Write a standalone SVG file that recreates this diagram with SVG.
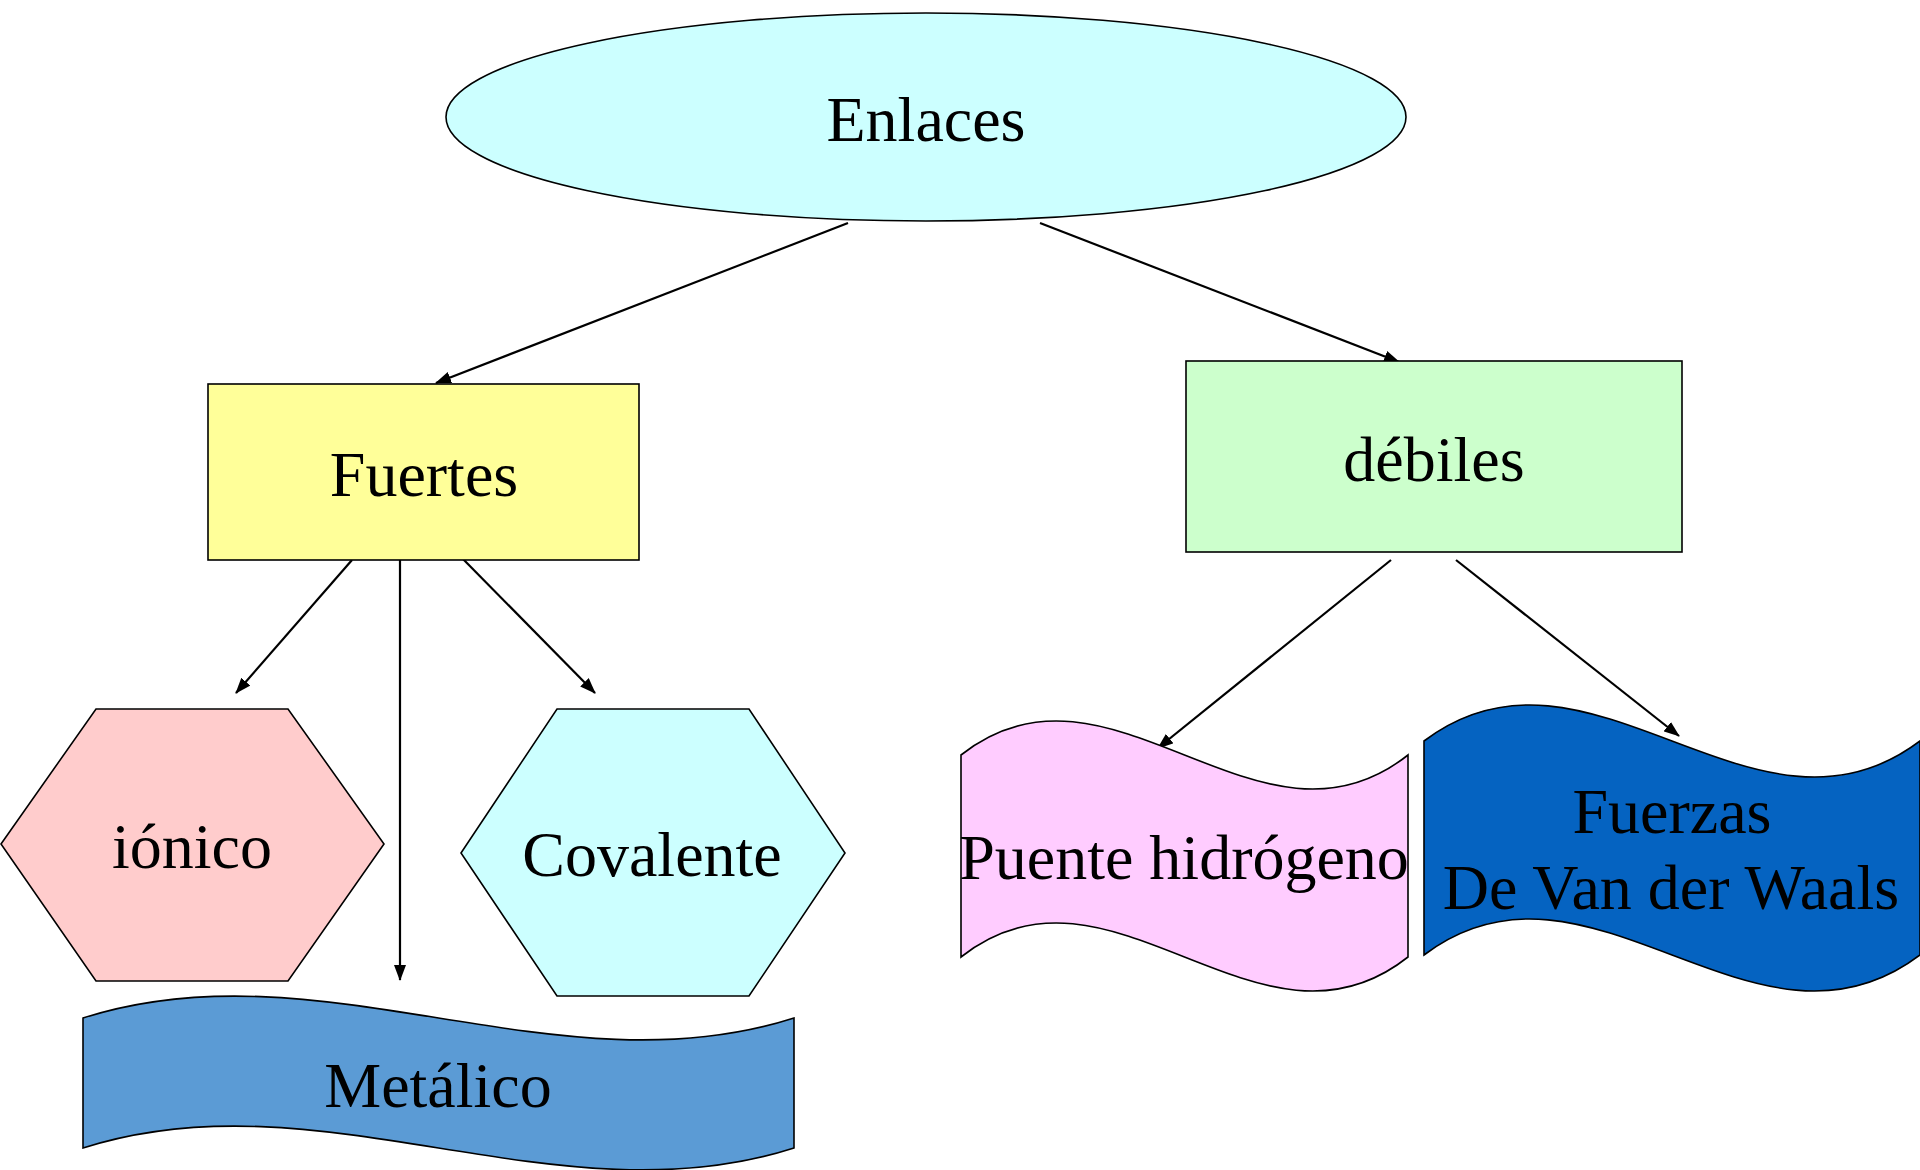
<svg xmlns="http://www.w3.org/2000/svg" width="1920" height="1170" viewBox="0 0 1920 1170">
<style>
.shape{stroke:#000;stroke-width:1.6}
.lbl{font-family:"Liberation Serif","Times New Roman",serif;font-size:64px;fill:#000;text-anchor:middle}
.conn{stroke:#000;stroke-width:2.2;fill:none;marker-end:url(#arr)}
</style>
<defs>
<marker id="arr" markerUnits="userSpaceOnUse" markerWidth="16" markerHeight="12" refX="15" refY="6" orient="auto">
<path d="M0,0 L16,6 L0,12 z" fill="#000"/>
</marker>
</defs>
<rect width="1920" height="1170" fill="#fff"/>
<g id="connectors">
<line class="conn" x1="848" y1="223" x2="436" y2="383"/>
<line class="conn" x1="1040" y1="223" x2="1399" y2="362"/>
<line class="conn" x1="352" y1="560" x2="236" y2="693"/>
<line class="conn" x1="400" y1="557" x2="400" y2="980"/>
<line class="conn" x1="462" y1="558" x2="595" y2="693"/>
<line class="conn" x1="1391" y1="560" x2="1158" y2="748"/>
<line class="conn" x1="1456" y1="560" x2="1679" y2="736"/>
</g>
<g id="enlaces">
<ellipse class="shape" cx="926" cy="117" rx="480" ry="104" fill="#CCFFFF"/>
<text class="lbl" x="926" y="141">Enlaces</text>
</g>
<g id="fuertes">
<rect class="shape" x="208" y="384" width="431" height="176" fill="#FFFF99"/>
<text class="lbl" x="424" y="496">Fuertes</text>
</g>
<g id="debiles">
<rect class="shape" x="1186" y="361" width="496" height="191" fill="#CCFFCC"/>
<text class="lbl" x="1434" y="481">débiles</text>
</g>
<g id="ionico">
<polygon class="shape" points="1,844 96,709 288,709 384,844 288,981 96,981" fill="#FFCCCC"/>
<text class="lbl" x="192" y="868">iónico</text>
</g>
<g id="covalente">
<polygon class="shape" points="461,853 557,709 749,709 845,853 749,996 557,996" fill="#CCFFFF"/>
<text class="lbl" x="652" y="876">Covalente</text>
</g>
<g id="metalico">
<path class="shape" d="M83,1018 C320,942 557,1094 794,1018 L794,1148 C557,1224 320,1072 83,1148 Z" fill="#5B9BD5"/>
<text class="lbl" x="438" y="1107">Metálico</text>
</g>
<g id="puente">
<path class="shape" d="M961,755 C1110,637 1259,873 1408,755 L1408,957 C1259,1075 1110,839 961,957 Z" fill="#FFCCFF"/>
<text class="lbl" x="1184" y="879">Puente hidrógeno</text>
</g>
<g id="fuerzas">
<path class="shape" d="M1424,741 C1589,616 1755,866 1920,741 L1920,955 C1755,1080 1589,830 1424,955 Z" fill="#0563C1"/>
<text class="lbl" x="1672" y="833">Fuerzas</text>
<text class="lbl" x="1671" y="909">De Van der Waals</text>
</g>
</svg>
